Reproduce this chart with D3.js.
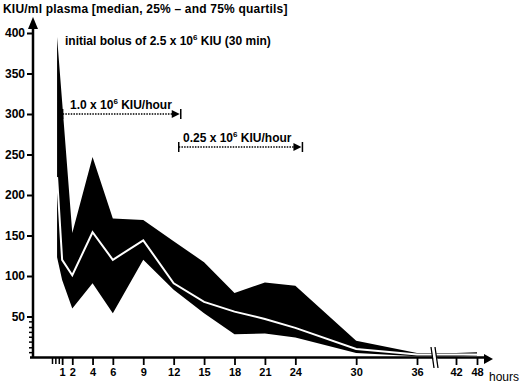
<!DOCTYPE html>
<html>
<head>
<meta charset="utf-8">
<script src="https://cdn.jsdelivr.net/npm/d3@7"></script>
<style>
body { margin: 0; background: #fff; }
text { font-family: "Liberation Sans", Arial, sans-serif; font-weight: bold; fill: #000; }
</style>
</head>
<body>
<div id="chart"></div>
<script>
// data (hours, KIU/ml)
var hours = [0.5, 1, 2, 4, 6, 9, 12, 15, 18, 21, 24, 30, 36, 42, 48];
var q25 = [123, 95, 60, 91, 54, 120, 83, 54, 28, 29, 24, 5, 1, 1, 2];
var median = [222, 120, 101, 154, 120, 144, 91, 68, 56, 47, 36, 10, 3, 3, 3];
var q75 = [395, 315, 153, 247, 171, 169, 143, 117, 79, 92, 88, 20, 5, 5, 6];

// tick labels
var xTicks = [1, 2, 4, 6, 9, 12, 15, 18, 21, 24, 30, 36, 42, 48];
var xMinorTicks = [0, 0.33, 0.67];
var yTicks = [50, 100, 150, 200, 250, 300, 350, 400];
var yMinorTicks = [6, 12, 19, 25, 31, 37, 44];

// svg params
var svgWidth = 520;
var svgHeight = 386;

var svg = d3.select("#chart").append("svg")
.attr("width", svgWidth)
.attr("height", svgHeight);

// scales, x has a break between 36 and 42 hours
var xScale = d3.scaleLinear()
.domain([0, 36, 42, 48])
.range([52, 417, 456, 477]);

var yScale = d3.scaleLinear()
.domain([0, 400])
.range([357, 33]);

var rows = hours.map(function(h, i) {
    return {h: h, lo: q25[i], med: median[i], hi: q75[i]};
});

// quartile band
var area = d3.area()
.x(d => xScale(d.h))
.y0(d => yScale(d.lo))
.y1(d => yScale(d.hi));

svg.append("path")
.datum(rows)
.attr("d", area)
.attr("fill", "#000");

// median line
var line = d3.line()
.x(d => xScale(d.h))
.y(d => yScale(d.med));

svg.append("path")
.datum(rows)
.attr("d", line)
.attr("fill", "none")
.attr("stroke", "#fff")
.attr("stroke-width", 2);

// y axis
var yAxis = d3.axisLeft(yScale)
.tickValues(yTicks)
.tickSize(6)
.tickPadding(2);

var yAxisGroup = svg.append("g")
.attr("transform", "translate(33,0)")
.call(yAxis);
yAxisGroup.select(".domain").remove();
yAxisGroup.selectAll("line").attr("stroke-width", 2);
yAxisGroup.selectAll("text")
.attr("font-size", 12)
.style("font-family", "Liberation Sans, Arial, sans-serif")
.style("font-weight", "bold");

var yMinorGroup = svg.append("g")
.attr("transform", "translate(33,0)")
.call(d3.axisLeft(yScale).tickValues(yMinorTicks).tickSize(4).tickFormat(""));
yMinorGroup.select(".domain").remove();
yMinorGroup.selectAll("line").attr("stroke-width", 1.5);

svg.append("line")
.attr("x1", 33).attr("x2", 33)
.attr("y1", 358).attr("y2", 26)
.attr("stroke", "#000")
.attr("stroke-width", 2.5);

svg.append("path")
.attr("d", "M33,17 L28,29 L38,29 Z")
.attr("fill", "#000");

// x axis
var xAxis = d3.axisBottom(xScale)
.tickValues(xTicks)
.tickSize(8)
.tickPadding(3);

var xAxisGroup = svg.append("g")
.attr("transform", "translate(0,357)")
.call(xAxis);
xAxisGroup.select(".domain").remove();
xAxisGroup.selectAll("line").attr("stroke-width", 1.8);
xAxisGroup.selectAll("text")
.attr("font-size", 11)
.style("font-family", "Liberation Sans, Arial, sans-serif")
.style("font-weight", "bold");

var xMinorGroup = svg.append("g")
.attr("transform", "translate(0,357)")
.call(d3.axisBottom(xScale).tickValues(xMinorTicks).tickSize(7).tickFormat(""));
xMinorGroup.select(".domain").remove();
xMinorGroup.selectAll("line").attr("stroke-width", 1.5);

svg.append("line")
.attr("x1", 30).attr("x2", 486)
.attr("y1", 357.5).attr("y2", 357.5)
.attr("stroke", "#000")
.attr("stroke-width", 2.5);

svg.append("path")
.attr("d", "M493,359 L484,354 L484,364 Z")
.attr("fill", "#000");

// axis break
svg.append("path")
.attr("d", "M431,347 L435,347 L439,368 L435,368 Z")
.attr("fill", "#fff");
svg.append("line")
.attr("x1", 431).attr("y1", 347).attr("x2", 434).attr("y2", 368)
.attr("stroke", "#000").attr("stroke-width", 1.3);
svg.append("line")
.attr("x1", 435).attr("y1", 347).attr("x2", 438).attr("y2", 368)
.attr("stroke", "#000").attr("stroke-width", 1.3);

svg.append("text")
.attr("x", 489)
.attr("y", 381)
.attr("font-size", 12)
.style("font-weight", "normal")
.text("hours");

// title
svg.append("text")
.attr("x", 3)
.attr("y", 13)
.attr("font-size", 12)
.attr("letter-spacing", 0.2)
.text("KIU/ml plasma [median, 25% \u2013 and 75% quartils]");

// annotation text with superscript
function powerLabel(x, y, before, after) {
    var t = svg.append("text")
    .attr("x", x)
    .attr("y", y)
    .attr("font-size", 12);
    t.append("tspan").text(before);
    t.append("tspan").attr("dy", -5).attr("font-size", 8).text("6");
    t.append("tspan").attr("dy", 5).text(after);
    return t;
}

powerLabel(65, 45, "initial bolus of 2.5 x 10", " KIU (30 min)");
powerLabel(70, 109, "1.0 x 10", " KIU/hour");
powerLabel(183, 142, "0.25 x 10", " KIU/hour");

// dosing arrows
function doseArrow(h0, h1, y) {
    var x0 = xScale(h0);
    var x1 = xScale(h1);
    svg.append("line")
    .attr("x1", x0).attr("x2", x1 - 6)
    .attr("y1", y).attr("y2", y)
    .attr("stroke", "#000")
    .attr("stroke-width", 1.4)
    .attr("stroke-dasharray", "1.5,1.2");
    svg.append("path")
    .attr("d", `M${x1 - 1},${y} L${x1 - 9},${y - 4} L${x1 - 9},${y + 4} Z`)
    .attr("fill", "#000");
    svg.append("line")
    .attr("x1", x1).attr("x2", x1)
    .attr("y1", y - 5).attr("y2", y + 5)
    .attr("stroke", "#000")
    .attr("stroke-width", 1.5);
    svg.append("line")
    .attr("x1", x0).attr("x2", x0)
    .attr("y1", y - 5).attr("y2", y + 5)
    .attr("stroke", "#000")
    .attr("stroke-width", 1.5);
}

doseArrow(1.05, 12.7, 114);
doseArrow(12.5, 24.7, 147);
</script>
</body>
</html>
